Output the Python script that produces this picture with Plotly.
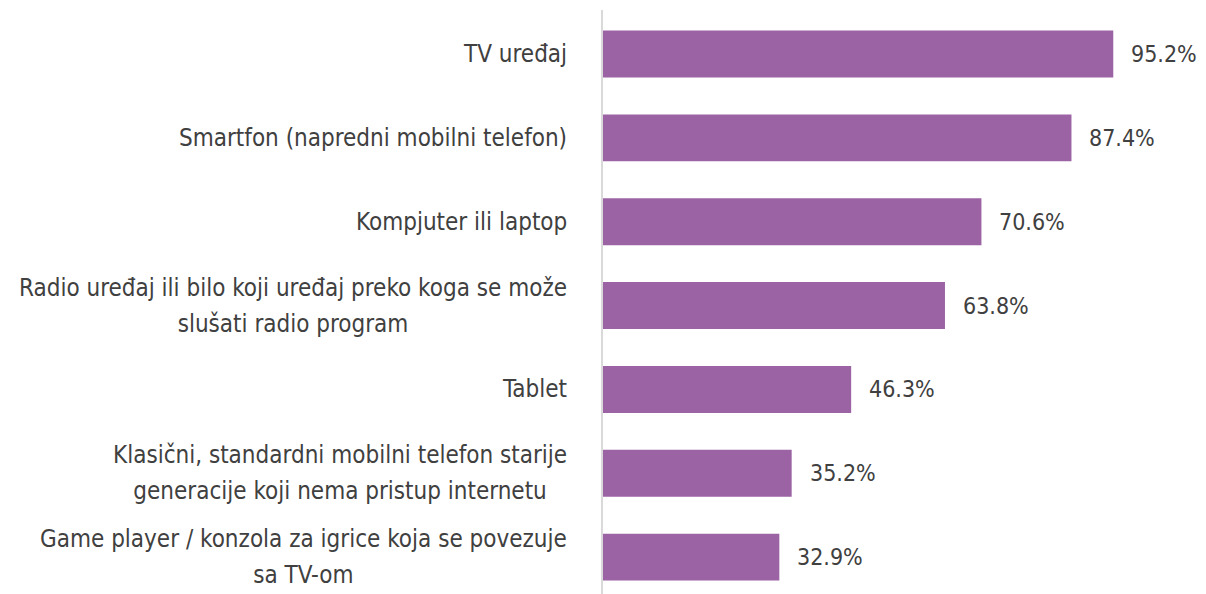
import plotly.graph_objects as go

categories = [
    "TV uređaj",
    "Smartfon (napredni mobilni telefon)",
    "Kompjuter ili laptop",
    "Radio uređaj ili bilo koji uređaj preko koga se može<br>slušati radio program",
    "Tablet",
    "Klasični, standardni mobilni telefon starije<br>generacije koji nema pristup internetu",
    "Game player / konzola za igrice koja se povezuje<br>sa TV-om",
]
values = [95.2, 87.4, 70.6, 63.8, 46.3, 35.2, 32.9]
value_labels = ["95.2%", "87.4%", "70.6%", "63.8%", "46.3%", "35.2%", "32.9%"]

FONT = "DejaVu Sans Condensed, Liberation Sans Narrow, sans-serif"
TEXT_COLOR = "#404040"
BAR_COLOR = "#9B63A3"

ypos = list(range(len(categories)))

fig = go.Figure()
fig.add_trace(go.Bar(
    x=values, y=ypos, orientation="h",
    marker=dict(color=BAR_COLOR, line=dict(width=0)),
    width=0.56, hoverinfo="skip",
))

annotations = []
for y, cat in zip(ypos, categories):
    lines = cat.split("<br>")
    text = "<br>".join('<span style="font-size:24px">%s</span>' % ln for ln in lines)
    annotations.append(dict(
        x=0, xref="paper", y=y, yref="y", text=text, showarrow=False,
        xanchor="right", yanchor="middle", align="center", xshift=-34,
        font=dict(family=FONT, size=28, color=TEXT_COLOR),
    ))
for y, v, lab in zip(ypos, values, value_labels):
    annotations.append(dict(
        x=v, xref="x", y=y, yref="y", text=lab, showarrow=False,
        xanchor="left", yanchor="middle", xshift=16,
        font=dict(family=FONT, size=23, color=TEXT_COLOR),
    ))

fig.update_layout(
    width=1198, height=586,
    margin=dict(l=595, r=67, t=2, b=0),
    paper_bgcolor="white", plot_bgcolor="white",
    showlegend=False,
    annotations=annotations,
    xaxis=dict(range=[0, 100], visible=False, showgrid=False, zeroline=False),
    yaxis=dict(range=[6.44, -0.525], showticklabels=False, showgrid=False,
               zeroline=False, showline=True, linecolor="#d9d9d9", linewidth=2,
               ticks=""),
)

fig.write_html("out.html")
